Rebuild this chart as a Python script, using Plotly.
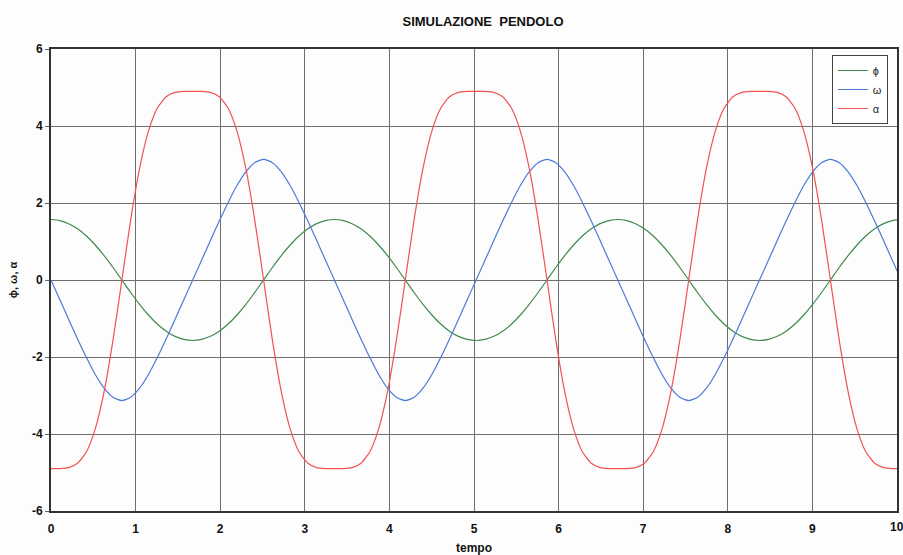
import plotly.graph_objects as go

# time samples (s)
tempo = [0.000, 0.105, 0.209, 0.314, 0.419, 0.523, 0.628, 0.733, 0.838, 0.942,
         1.047, 1.152, 1.256, 1.361, 1.466, 1.570, 1.675, 1.780, 1.884, 1.989,
         2.094, 2.198, 2.303, 2.408, 2.513, 2.617, 2.722, 2.827, 2.931, 3.036,
         3.141, 3.245, 3.350, 3.455, 3.559, 3.664, 3.769, 3.873, 3.978, 4.083,
         4.188, 4.292, 4.397, 4.502, 4.606, 4.711, 4.816, 4.920, 5.025, 5.130,
         5.234, 5.339, 5.444, 5.548, 5.653, 5.758, 5.863, 5.967, 6.072, 6.177,
         6.281, 6.386, 6.491, 6.595, 6.700, 6.805, 6.909, 7.014, 7.119, 7.223,
         7.328, 7.433, 7.538, 7.642, 7.747, 7.852, 7.956, 8.061, 8.166, 8.270,
         8.375, 8.480, 8.584, 8.689, 8.794, 8.898, 9.003, 9.108, 9.213, 9.317,
         9.422, 9.527, 9.631, 9.736, 9.841, 9.945, 10.050]

phi = [1.571, 1.544, 1.463, 1.330, 1.144, 0.909, 0.633, 0.325, 0.000, -0.325,
       -0.633, -0.909, -1.144, -1.330, -1.463, -1.544, -1.571, -1.544, -1.463, -1.330,
       -1.144, -0.909, -0.633, -0.325, 0.000, 0.325, 0.633, 0.909, 1.144, 1.330,
       1.463, 1.544, 1.571, 1.544, 1.463, 1.330, 1.144, 0.909, 0.633, 0.325,
       0.000, -0.325, -0.633, -0.909, -1.144, -1.330, -1.463, -1.544, -1.571, -1.544,
       -1.463, -1.330, -1.144, -0.909, -0.633, -0.325, 0.000, 0.325, 0.633, 0.909,
       1.144, 1.330, 1.463, 1.544, 1.571, 1.544, 1.463, 1.330, 1.144, 0.909,
       0.633, 0.325, 0.000, -0.325, -0.633, -0.909, -1.144, -1.330, -1.463, -1.544,
       -1.571, -1.544, -1.463, -1.330, -1.144, -0.909, -0.633, -0.325, 0.000, 0.325,
       0.633, 0.909, 1.144, 1.330, 1.463, 1.544, 1.571]

omega = [0.000, -0.513, -1.025, -1.530, -2.015, -2.454, -2.811, -3.048, -3.131, -3.048,
         -2.811, -2.454, -2.015, -1.530, -1.025, -0.513, 0.000, 0.513, 1.025, 1.530,
         2.015, 2.454, 2.811, 3.048, 3.131, 3.048, 2.811, 2.454, 2.015, 1.530,
         1.025, 0.513, 0.000, -0.513, -1.025, -1.530, -2.015, -2.454, -2.811, -3.048,
         -3.131, -3.048, -2.811, -2.454, -2.015, -1.530, -1.025, -0.513, 0.000, 0.513,
         1.025, 1.530, 2.015, 2.454, 2.811, 3.048, 3.131, 3.048, 2.811, 2.454,
         2.015, 1.530, 1.025, 0.513, 0.000, -0.513, -1.025, -1.530, -2.015, -2.454,
         -2.811, -3.048, -3.131, -3.048, -2.811, -2.454, -2.015, -1.530, -1.025, -0.513,
         0.000, 0.513, 1.025, 1.530, 2.015, 2.454, 2.811, 3.048, 3.131, 3.048,
         2.811, 2.454, 2.015, 1.530, 1.025, 0.513, 0.000]

alpha = [-4.900, -4.898, -4.872, -4.758, -4.460, -3.866, -2.898, -1.564, 0.000, 1.564,
         2.898, 3.866, 4.460, 4.758, 4.872, 4.898, 4.900, 4.898, 4.872, 4.758,
         4.460, 3.866, 2.898, 1.564, 0.000, -1.564, -2.898, -3.866, -4.460, -4.758,
         -4.872, -4.898, -4.900, -4.898, -4.872, -4.758, -4.460, -3.866, -2.898, -1.564,
         0.000, 1.564, 2.898, 3.866, 4.460, 4.758, 4.872, 4.898, 4.900, 4.898,
         4.872, 4.758, 4.460, 3.866, 2.898, 1.564, 0.000, -1.564, -2.898, -3.866,
         -4.460, -4.758, -4.872, -4.898, -4.900, -4.898, -4.872, -4.758, -4.460, -3.866,
         -2.898, -1.564, 0.000, 1.564, 2.898, 3.866, 4.460, 4.758, 4.872, 4.898,
         4.900, 4.898, 4.872, 4.758, 4.460, 3.866, 2.898, 1.564, 0.000, -1.564,
         -2.898, -3.866, -4.460, -4.758, -4.872, -4.898, -4.900]

x_ticks = [0, 1, 2, 3, 4, 5, 6, 7, 8, 9, 10]
y_ticks = [-6, -4, -2, 0, 2, 4, 6]

FONT = "Liberation Sans, Arial, sans-serif"

fig = go.Figure()
fig.add_trace(go.Scatter(x=tempo, y=phi, name="ϕ", mode="lines",
                         line=dict(color="#3f8a4c", width=1.2, shape="spline", smoothing=0.6)))
fig.add_trace(go.Scatter(x=tempo, y=omega, name="ω", mode="lines",
                         line=dict(color="#4a7bd8", width=1.2, shape="spline", smoothing=0.6)))
fig.add_trace(go.Scatter(x=tempo, y=alpha, name="α", mode="lines",
                         line=dict(color="#f05252", width=1.2, shape="spline", smoothing=0.6)))

fig.update_layout(
    width=903, height=555,
    margin=dict(l=51, r=6, t=49, b=44, autoexpand=False),
    paper_bgcolor="#fdfdfd", plot_bgcolor="#fdfdfd",
    font=dict(family=FONT, color="#111111"),
    title=dict(text="<b>SIMULAZIONE  PENDOLO</b>", x=(483 - 51) / 846, xref="paper", xanchor="center",
               y=1 - 21 / 555, yref="container", yanchor="middle",
               font=dict(size=13, family=FONT, color="#111111")),
    showlegend=True,
    legend=dict(x=0.923, y=0.987, xanchor="left", yanchor="top",
                bgcolor="#ffffff", bordercolor="#444444", borderwidth=1,
                font=dict(size=11, family=FONT, color="#222222"),
                itemwidth=30, tracegroupgap=0),
    xaxis=dict(range=[0, 10], tickvals=x_ticks[:-1], ticktext=[f"<b>{v}</b>" for v in x_ticks[:-1]],
               showgrid=True, gridcolor="#6e6e6e", gridwidth=1, automargin=False,
               showline=True, linecolor="#333333", linewidth=2, mirror=True,
               zeroline=False, ticks="", ticklabelstandoff=6,
               tickfont=dict(size=12, family=FONT, color="#111111"),
               title=dict(text="<b>tempo</b>", font=dict(size=12, family=FONT, color="#111111"),
                          standoff=8)),
    yaxis=dict(range=[-6, 6], tickvals=y_ticks, ticktext=[f"<b>{v}</b>" for v in y_ticks],
               showgrid=True, gridcolor="#6e6e6e", gridwidth=1, automargin=False,
               showline=True, linecolor="#333333", linewidth=2, mirror=True,
               zeroline=False, ticks="outside", ticklen=4, tickcolor="#666666",
               tickfont=dict(size=12, family=FONT, color="#111111"),
               title=dict(text="<b>ϕ, ω, α</b>", font=dict(size=11, family=FONT, color="#111111"),
                          standoff=12)),
)

# last x tick label, which runs off the right edge of the page as in the original
fig.add_annotation(x=x_ticks[-1], xref="x", y=-16 / 461, yref="paper",
                   text=f"<b>{x_ticks[-1]}</b>", showarrow=False,
                   xanchor="center", yanchor="middle",
                   font=dict(size=12, family=FONT, color="#111111"))

fig.write_html("out.html")
